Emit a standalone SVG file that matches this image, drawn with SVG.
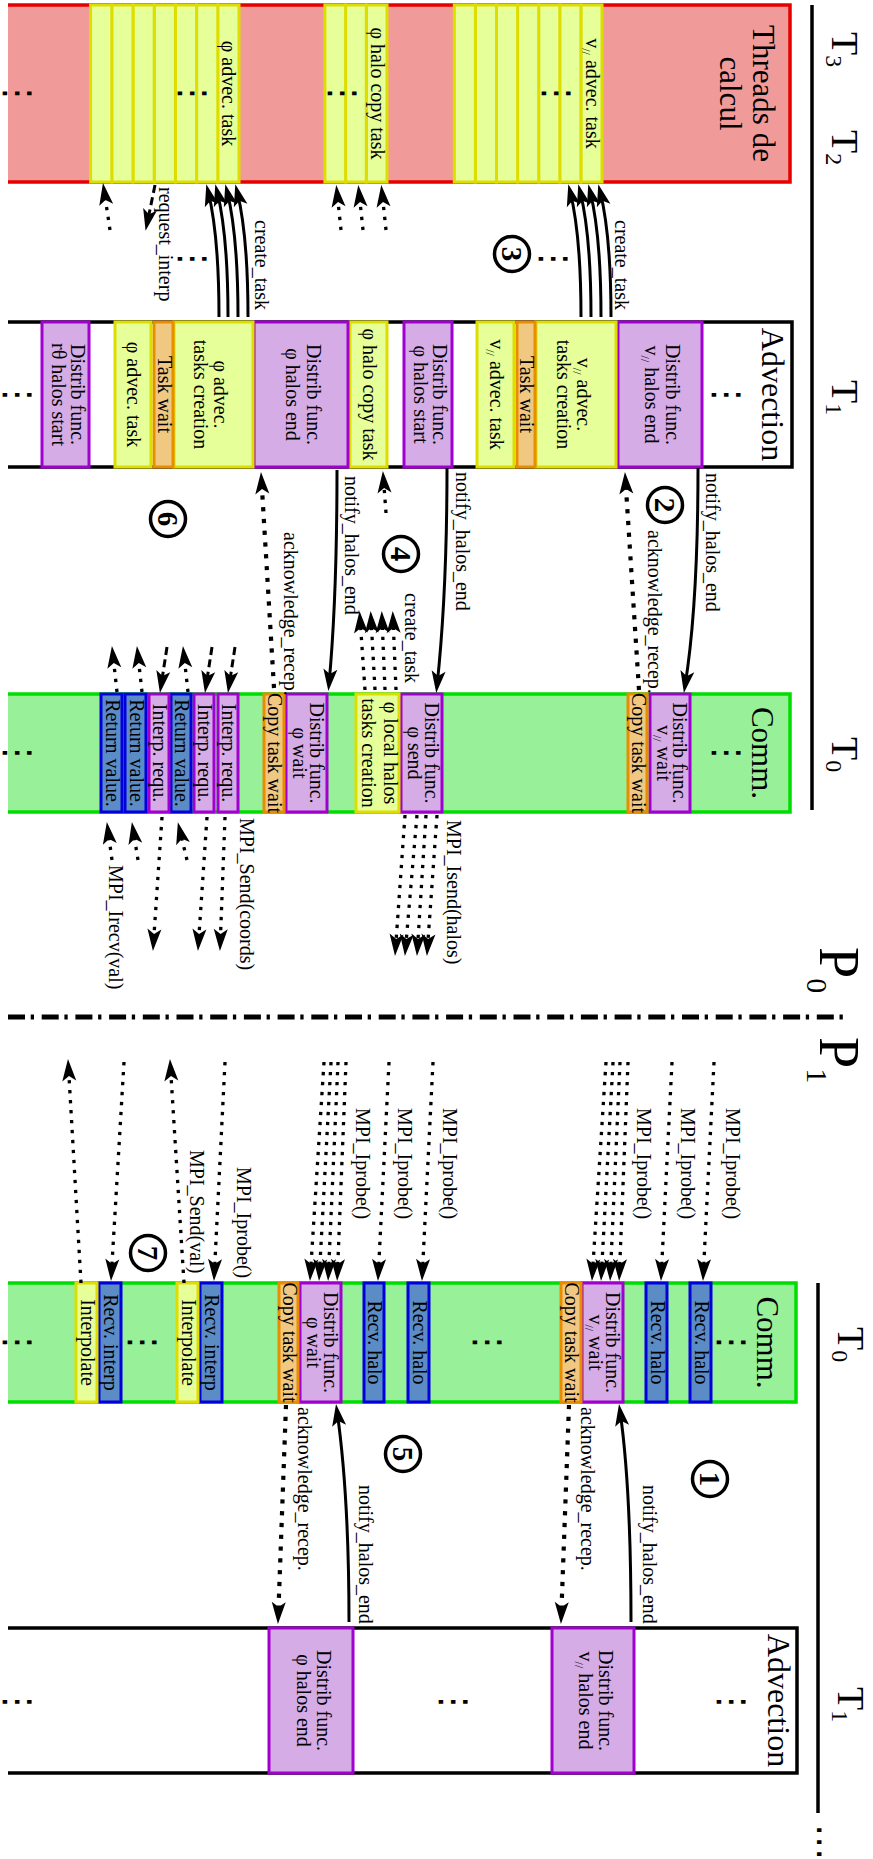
<svg xmlns="http://www.w3.org/2000/svg" width="873" height="1859" viewBox="0 0 873 1859">
<defs>
<style>
.t{font-family:"Liberation Serif",serif;fill:#000}
.bx{font-size:20px;text-anchor:middle}
.lb{font-size:20px}
.big{font-size:31px;text-anchor:middle}
.sub{font-size:12px}
.pu{fill:#d6ace6;stroke:#a000d0;stroke-width:3}
.ye{fill:#e6ff99;stroke:#dddd00;stroke-width:3}
.or{fill:#f0c882;stroke:#e88c00;stroke-width:3}
.bl{fill:#5b8cc6;stroke:#0000dd;stroke-width:3}
.c{stroke:#000;stroke-width:3;fill:none;marker-end:url(#ah)}
.dt{stroke-width:3.3;stroke-dasharray:3.3 6.7}
.ak{stroke-width:4.2;stroke-dasharray:4.2 7.6}
.ds{stroke-dasharray:8 4.5}
.circ{fill:none;stroke:#000;stroke-width:3.5}
.num{font-size:29px;font-weight:bold;text-anchor:middle}
.vd{font-family:"DejaVu Sans",sans-serif;font-size:36px;text-anchor:middle;fill:#000}
</style>
<marker id="ah" markerUnits="userSpaceOnUse" markerWidth="24" markerHeight="16" viewBox="0 0 24 16" refX="16" refY="8" orient="auto"><path d="M1,1 L23,8 L1,15 L6,8 Z" fill="#000"/></marker>
</defs>
<rect width="873" height="1859" fill="#fff"/>
<g transform="translate(873,0) rotate(90)">

<g id="timeline">
<line x1="5" y1="61" x2="810" y2="61" stroke="#000" stroke-width="3.5"/>
<text class="t" font-size="38" x="32" y="41">T<tspan font-size="24" dy="6">3</tspan></text>
<text class="t" font-size="38" x="130" y="41">T<tspan font-size="24" dy="6">2</tspan></text>
<text class="t" font-size="38" x="380" y="41">T<tspan font-size="24" dy="6">1</tspan></text>
<text class="t" font-size="38" x="737" y="41">T<tspan font-size="24" dy="6">0</tspan></text>
<line x1="1283" y1="55" x2="1813" y2="55" stroke="#000" stroke-width="3.5"/>
<text class="t" font-size="38" x="1327" y="35">T<tspan font-size="24" dy="6">0</tspan></text>
<text class="t" font-size="38" x="1687" y="35">T<tspan font-size="24" dy="6">1</tspan></text>
<text class="vd" font-size="30" x="1842" y="65">⋯</text>
</g>

<g id="divider">
<line x1="1017" y1="865" x2="1017" y2="25" stroke="#000" stroke-width="5" stroke-dasharray="17 5.7 3.3 7.7"/>
<text class="t" font-size="56" x="947" y="53">P<tspan font-size="30" dy="13">0</tspan></text>
<text class="t" font-size="56" x="1037" y="53">P<tspan font-size="30" dy="13">1</tspan></text>
</g>

<g id="lane-threads">
<rect x="5" y="83" width="177" height="782" fill="#f19a9a"/>
<path d="M5,865 L5,83 L182,83 L182,865" fill="none" stroke="#e60000" stroke-width="3.5"/>
<text class="t big" x="93.5" y="120">Threads de</text>
<text class="t big" x="93.5" y="153">calcul</text>
<text class="vd" x="93.5" y="867">⋮</text>
</g>

<g id="threads-tasks-v">
<rect class="ye" x="5" y="271" width="177" height="21.1"/>
<rect class="ye" x="5" y="292.1" width="177" height="21.1"/>
<rect class="ye" x="5" y="313.2" width="177" height="21.1"/>
<rect class="ye" x="5" y="334.3" width="177" height="21.1"/>
<rect class="ye" x="5" y="355.4" width="177" height="21.1"/>
<rect class="ye" x="5" y="376.5" width="177" height="21.1"/>
<rect class="ye" x="5" y="397.6" width="177" height="21.1"/>
<text class="t bx" x="93.5" y="287.5">v<tspan class="sub" dy="4">//</tspan><tspan dy="-4"> advec. task</tspan></text>
<text class="vd" x="93.5" y="328">⋮</text>
</g>

<g id="threads-tasks-halo">
<rect class="ye" x="5" y="486" width="177" height="20.7"/>
<rect class="ye" x="5" y="506.7" width="177" height="20.7"/>
<rect class="ye" x="5" y="527.4" width="177" height="20.7"/>
<text class="t bx" x="93.5" y="502.4">φ halo copy task</text>
<text class="vd" x="93.5" y="542">⋮</text>
</g>

<g id="threads-tasks-phi">
<rect class="ye" x="5" y="634" width="177" height="21.2"/>
<rect class="ye" x="5" y="655.2" width="177" height="21.2"/>
<rect class="ye" x="5" y="676.4" width="177" height="21.2"/>
<rect class="ye" x="5" y="697.6" width="177" height="21.2"/>
<rect class="ye" x="5" y="718.8" width="177" height="21.2"/>
<rect class="ye" x="5" y="740" width="177" height="21.2"/>
<rect class="ye" x="5" y="761.2" width="177" height="21.2"/>
<text class="t bx" x="93.5" y="650.6">φ advec. task</text>
<text class="vd" x="93.5" y="692">⋮</text>
</g>

<g id="lane-advection-p0">
<path d="M322,865 L322,81 L467,81 L467,865" fill="#fff" stroke="#000" stroke-width="3.5"/>
<text class="t" font-size="32" text-anchor="middle" x="394.5" y="111">Advection</text>
<text class="vd" x="395" y="158">⋮</text>
<text class="vd" x="395" y="867">⋮</text>
</g>

<g id="adv-v-halos-end">
<rect class="pu" x="322" y="171" width="145" height="84"/>
<text class="t bx" x="394.5" y="207">Distrib func.</text>
<text class="t bx" x="394.5" y="228">v<tspan class="sub" dy="4">//</tspan><tspan dy="-4"> halos end</tspan></text>
</g>
<g id="adv-v-tasks-creation">
<rect class="ye" x="322" y="257" width="145" height="80"/>
<text class="t bx" x="394.5" y="296">v<tspan class="sub" dy="4">//</tspan><tspan dy="-4"> advec.</tspan></text>
<text class="t bx" x="394.5" y="316">tasks creation</text>
</g>
<g id="adv-task-wait-1">
<rect class="or" x="322" y="338" width="145" height="18"/>
<text class="t bx" x="394.5" y="353">Task wait</text>
</g>
<g id="adv-v-task">
<rect class="ye" x="322" y="359" width="145" height="37"/>
<text class="t bx" x="394.5" y="383.5">v<tspan class="sub" dy="4">//</tspan><tspan dy="-4"> advec. task</tspan></text>
</g>
<g id="adv-phi-halos-start">
<rect class="pu" x="322" y="421" width="145" height="48"/>
<text class="t bx" x="394.5" y="440">Distrib func.</text>
<text class="t bx" x="394.5" y="459">φ halos start</text>
</g>
<g id="adv-phi-halo-copy">
<rect class="ye" x="322" y="486" width="145" height="37"/>
<text class="t bx" x="394.5" y="510.5">φ halo copy task</text>
</g>
<g id="adv-phi-halos-end">
<rect class="pu" x="322" y="525" width="145" height="94"/>
<text class="t bx" x="394.5" y="566">Distrib func.</text>
<text class="t bx" x="394.5" y="587">φ halos end</text>
</g>
<g id="adv-phi-tasks-creation">
<rect class="ye" x="322" y="620" width="145" height="79"/>
<text class="t bx" x="394.5" y="659">φ advec.</text>
<text class="t bx" x="394.5" y="679">tasks creation</text>
</g>
<g id="adv-task-wait-2">
<rect class="or" x="322" y="700" width="145" height="19"/>
<text class="t bx" x="394.5" y="715.5">Task wait</text>
</g>
<g id="adv-phi-task">
<rect class="ye" x="322" y="722" width="145" height="36"/>
<text class="t bx" x="394.5" y="746">φ advec. task</text>
</g>
<g id="adv-rtheta-halos-start">
<rect class="pu" x="322" y="784" width="145" height="47"/>
<text class="t bx" x="394.5" y="802">Distrib func.</text>
<text class="t bx" x="394.5" y="821">rθ halos start</text>
</g>

<g id="lane-comm-p0">
<rect x="694" y="83" width="118" height="782" fill="#98f098"/>
<path d="M694,865 L694,83 L812,83 L812,865" fill="none" stroke="#00dd00" stroke-width="3.5"/>
<text class="t big" x="753" y="121">Comm.</text>
<text class="vd" x="753" y="158">⋮</text>
<text class="vd" x="753" y="867">⋮</text>
</g>
<g id="comm0-v-wait">
<rect class="pu" x="694" y="183" width="118" height="40"/>
<text class="t bx" x="753" y="200">Distrib func.</text>
<text class="t bx" x="753" y="216">v<tspan class="sub" dy="4">//</tspan><tspan dy="-4"> wait</tspan></text>
</g>
<g id="comm0-copy-wait-1">
<rect class="or" x="694" y="226" width="118" height="19"/>
<text class="t bx" x="753" y="241.5">Copy task wait</text>
</g>
<g id="comm0-phi-send">
<rect class="pu" x="694" y="431" width="118" height="41"/>
<text class="t bx" x="753" y="448.5">Distrib func.</text>
<text class="t bx" x="753" y="465">φ send</text>
</g>
<g id="comm0-local-halos">
<rect class="ye" x="694" y="474" width="118" height="43"/>
<text class="t bx" x="753" y="489.5">φ local halos</text>
<text class="t bx" x="753" y="511.5">tasks creation</text>
</g>
<g id="comm0-phi-wait">
<rect class="pu" x="694" y="546" width="118" height="41"/>
<text class="t bx" x="753" y="563.5">Distrib func.</text>
<text class="t bx" x="753" y="580">φ wait</text>
</g>
<g id="comm0-copy-wait-2">
<rect class="or" x="694" y="589" width="118" height="20"/>
<text class="t bx" x="753" y="605">Copy task wait</text>
</g>
<g id="comm0-interp-1">
<rect class="pu" x="694" y="635" width="118" height="20"/>
<text class="t bx" x="753" y="651">Interp. requ.</text>
</g>
<g id="comm0-interp-2">
<rect class="pu" x="694" y="659" width="118" height="20"/>
<text class="t bx" x="753" y="675">Interp. requ.</text>
</g>
<g id="comm0-return-1">
<rect class="bl" x="694" y="682" width="118" height="20"/>
<text class="t bx" x="753" y="698">Return value.</text>
</g>
<g id="comm0-interp-3">
<rect class="pu" x="694" y="704" width="118" height="20"/>
<text class="t bx" x="753" y="720">Interp. requ.</text>
</g>
<g id="comm0-return-2">
<rect class="bl" x="694" y="727" width="118" height="21"/>
<text class="t bx" x="753" y="743.5">Return value.</text>
</g>
<g id="comm0-return-3">
<rect class="bl" x="694" y="751" width="118" height="21"/>
<text class="t bx" x="753" y="767.5">Return value.</text>
</g>

<g id="lane-comm-p1">
<rect x="1283" y="77" width="119" height="788" fill="#98f098"/>
<path d="M1283,865 L1283,77 L1402,77 L1402,865" fill="none" stroke="#00dd00" stroke-width="3.5"/>
<text class="t big" x="1342.5" y="116">Comm.</text>
<text class="vd" x="1342.5" y="153">⋮</text>
<text class="vd" x="1342.5" y="397">⋮</text>
<text class="vd" x="1342.5" y="742">⋮</text>
<text class="vd" x="1342.5" y="867">⋮</text>
</g>
<g id="comm1-recv-halo-1">
<rect class="bl" x="1283" y="162" width="119" height="21"/>
<text class="t bx" x="1342.5" y="178.5">Recv. halo</text>
</g>
<g id="comm1-recv-halo-2">
<rect class="bl" x="1283" y="206" width="119" height="21"/>
<text class="t bx" x="1342.5" y="222.5">Recv. halo</text>
</g>
<g id="comm1-v-wait">
<rect class="pu" x="1283" y="250" width="119" height="41"/>
<text class="t bx" x="1342.5" y="267.5">Distrib func.</text>
<text class="t bx" x="1342.5" y="284">v<tspan class="sub" dy="4">//</tspan><tspan dy="-4"> wait</tspan></text>
</g>
<g id="comm1-copy-wait-1">
<rect class="or" x="1283" y="292" width="119" height="20"/>
<text class="t bx" x="1342.5" y="308">Copy task wait</text>
</g>
<g id="comm1-recv-halo-3">
<rect class="bl" x="1283" y="444" width="119" height="21"/>
<text class="t bx" x="1342.5" y="460.5">Recv. halo</text>
</g>
<g id="comm1-recv-halo-4">
<rect class="bl" x="1283" y="489" width="119" height="20"/>
<text class="t bx" x="1342.5" y="505">Recv. halo</text>
</g>
<g id="comm1-phi-wait">
<rect class="pu" x="1283" y="532" width="119" height="41"/>
<text class="t bx" x="1342.5" y="549.5">Distrib func.</text>
<text class="t bx" x="1342.5" y="566">φ wait</text>
</g>
<g id="comm1-copy-wait-2">
<rect class="or" x="1283" y="575" width="119" height="19"/>
<text class="t bx" x="1342.5" y="590.5">Copy task wait</text>
</g>
<g id="comm1-recv-interp-1">
<rect class="bl" x="1283" y="651" width="119" height="22"/>
<text class="t bx" x="1342.5" y="668">Recv. interp</text>
</g>
<g id="comm1-interpolate-1">
<rect class="ye" x="1283" y="675" width="119" height="21"/>
<text class="t bx" x="1342.5" y="691.5">Interpolate</text>
</g>
<g id="comm1-recv-interp-2">
<rect class="bl" x="1283" y="752" width="119" height="22"/>
<text class="t bx" x="1342.5" y="769">Recv. interp</text>
</g>
<g id="comm1-interpolate-2">
<rect class="ye" x="1283" y="776" width="119" height="21"/>
<text class="t bx" x="1342.5" y="792.5">Interpolate</text>
</g>

<g id="lane-advection-p1">
<path d="M1628,865 L1628,76 L1773,76 L1773,865" fill="#fff" stroke="#000" stroke-width="3.5"/>
<text class="t" font-size="32" text-anchor="middle" x="1700.5" y="105">Advection</text>
<text class="vd" x="1702" y="153">⋮</text>
<text class="vd" x="1702" y="431">⋮</text>
<text class="vd" x="1702" y="867">⋮</text>
</g>
<g id="adv1-v-halos-end">
<rect class="pu" x="1628" y="239" width="145" height="82"/>
<text class="t bx" x="1700.5" y="274">Distrib func.</text>
<text class="t bx" x="1700.5" y="294">v<tspan class="sub" dy="4">//</tspan><tspan dy="-4"> halos end</tspan></text>
</g>
<g id="adv1-phi-halos-end">
<rect class="pu" x="1628" y="520" width="145" height="84"/>
<text class="t bx" x="1700.5" y="556">Distrib func.</text>
<text class="t bx" x="1700.5" y="576">φ halos end</text>
</g>

<g id="step-numbers">
<circle class="circ" cx="254" cy="361" r="17.5"/><text class="t num" x="254" y="371">3</text>
<circle class="circ" cx="505" cy="208" r="17.5"/><text class="t num" x="505" y="218">2</text>
<circle class="circ" cx="554" cy="472" r="17.5"/><text class="t num" x="554" y="482">4</text>
<circle class="circ" cx="519" cy="705" r="17.5"/><text class="t num" x="519" y="715">6</text>
<circle class="circ" cx="1253" cy="725" r="17.5"/><text class="t num" x="1253" y="735">7</text>
<circle class="circ" cx="1479" cy="163" r="17.5"/><text class="t num" x="1479" y="173">1</text>
<circle class="circ" cx="1454" cy="470" r="17.5"/><text class="t num" x="1454" y="480">5</text>
</g>

<g id="connectors">
<path class="c dt" d="M230,763 L190,769"/>
<path class="c ds" d="M185,718 L224,726"/>
<path class="c" d="M317,654 C255,654 215,659 191,665"/>
<path class="c" d="M317,645 C255,645 215,650 191,656"/>
<path class="c" d="M317,635 C255,635 215,640 191,646"/>
<path class="c" d="M317,625 C255,625 215,630 191,636"/>
<path class="c dt" d="M230,532 L192,536"/>
<path class="c dt" d="M230,510 L192,514"/>
<path class="c dt" d="M230,487 L192,491"/>
<path class="c" d="M317,292 C255,292 215,297 191,303"/>
<path class="c" d="M317,282 C255,282 215,287 191,293"/>
<path class="c" d="M317,272 C255,272 215,277 191,283"/>
<path class="c" d="M317,262 C255,262 215,267 191,273"/>
<text class="vd" x="259" y="692">⋮</text>
<text class="vd" x="259" y="331">⋮</text>
<text class="t lb" x="187" y="714">request_interp</text>
<text class="t lb" x="220" y="618">create_task</text>
<text class="t lb" x="220" y="258">create_task</text>

<path class="c" d="M468,175 C560,175 630,179 686,188"/>
<path class="c ak" d="M690,234 L479,247.6"/>
<path class="c" d="M468,426 C560,426 630,430 686,436"/>
<path class="c dt" d="M513,487 L478,489.6"/>
<path class="c dt" d="M690,508 L618,513"/>
<path class="c dt" d="M690,498 L618,502"/>
<path class="c dt" d="M690,488 L618,491"/>
<path class="c dt" d="M690,477 L618,480"/>
<path class="c ak" d="M688,599 L479,611.6"/>
<path class="c" d="M470,536 C560,536 630,539 684,544"/>
<path class="c dt" d="M692,756 L653,760.3"/>
<path class="c dt" d="M692,731 L653,735.3"/>
<path class="c dt" d="M692,685 L653,689.3"/>
<path class="c ds" d="M647,706 L686,712"/>
<path class="c ds" d="M647,661 L686,667"/>
<path class="c ds" d="M647,638 L686,644"/>
<text class="t lb" x="473" y="167.5">notify_halos_end</text>
<text class="t lb" x="530" y="225.5">acknowledge_recep.</text>
<text class="t lb" x="472" y="417.5">notify_halos_end</text>
<text class="t lb" x="593" y="468">create_task</text>
<text class="t lb" x="532" y="589">acknowledge_recep.</text>
<text class="t lb" x="476" y="528.5">notify_halos_end</text>

<path class="c dt" d="M815,468 L949,477.5"/>
<path class="c dt" d="M815,456 L949,467.5"/>
<path class="c dt" d="M815,447 L949,455.6"/>
<path class="c dt" d="M815,436 L949,445.6"/>
<path class="c dt" d="M817,711 L944,719.6"/>
<path class="c dt" d="M817,666 L944,674.6"/>
<path class="c dt" d="M817,648 L944,652.8"/>
<path class="c dt" d="M860,761 L829,765.2"/>
<path class="c dt" d="M860,735 L829,740"/>
<path class="c dt" d="M860,686 L829,693.5"/>
<text class="t lb" x="820" y="426">MPI_Isend(halos)</text>
<text class="t lb" x="818" y="633.5">MPI_Send(coords)</text>
<text class="t lb" x="865" y="764.5">MPI_Irecv(val)</text>

<path class="c dt" d="M1062,159 L1274,169.7"/>
<path class="c dt" d="M1062,201 L1274,211.7"/>
<path class="c dt" d="M1062,267 L1274,280.6"/>
<path class="c dt" d="M1062,260 L1274,271.6"/>
<path class="c dt" d="M1062,253 L1274,262.6"/>
<path class="c dt" d="M1062,245 L1274,253.6"/>
<path class="c dt" d="M1062,440 L1274,450.7"/>
<path class="c dt" d="M1062,484 L1274,494.7"/>
<path class="c dt" d="M1062,549 L1274,562.6"/>
<path class="c dt" d="M1062,542 L1274,553.6"/>
<path class="c dt" d="M1062,535 L1274,544.6"/>
<path class="c dt" d="M1062,527 L1274,535.6"/>
<path class="c dt" d="M1062,648 L1274,658.7"/>
<path class="c dt" d="M1283,689 L1066,702.6"/>
<path class="c dt" d="M1062,749 L1274,761.6"/>
<path class="c dt" d="M1283,792 L1066,804.6"/>
<text class="t lb" x="1108" y="147">MPI_Iprobe()</text>
<text class="t lb" x="1108" y="192">MPI_Iprobe()</text>
<text class="t lb" x="1108" y="236">MPI_Iprobe()</text>
<text class="t lb" x="1108" y="430">MPI_Iprobe()</text>
<text class="t lb" x="1108" y="475">MPI_Iprobe()</text>
<text class="t lb" x="1108" y="517">MPI_Iprobe()</text>
<text class="t lb" x="1167" y="636">MPI_Iprobe()</text>
<text class="t lb" x="1150" y="683">MPI_Send(val)</text>

<path class="c" d="M1622,242 C1530,242 1460,246 1411,253"/>
<path class="c ak" d="M1405,304 L1617,311.8"/>
<path class="c" d="M1622,524 C1530,524 1460,529 1411,536"/>
<path class="c ak" d="M1405,587 L1617,594.8"/>
<text class="t lb" x="1485" y="230.5">notify_halos_end</text>
<text class="t lb" x="1407" y="292.5">acknowledge_recep.</text>
<text class="t lb" x="1485" y="514.5">notify_halos_end</text>
<text class="t lb" x="1407" y="575.5">acknowledge_recep.</text>
</g>

</g>
</svg>
